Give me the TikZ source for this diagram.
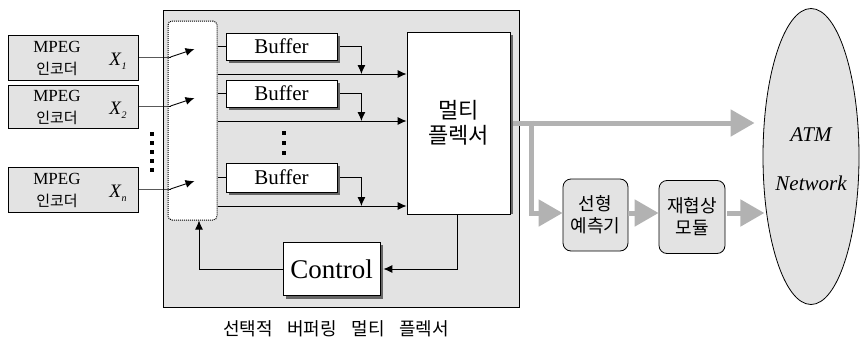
\documentclass[tikz,border=0pt]{standalone}
\usepackage{fontspec}
\setmainfont{Liberation Serif}
\newfontfamily\kr{Noto Sans CJK KR}
\usetikzlibrary{arrows.meta,shapes.geometric,calc}
\newcommand{\fsz}[1]{\fontsize{#1}{#1}\selectfont}
\begin{document}
\begin{tikzpicture}[x=1pt,y=-1pt,
  graybox/.style={draw, line width=0.8pt, fill=gray!22, inner sep=0pt},
  whitebox/.style={draw, line width=0.8pt, fill=white, inner sep=0pt},
  shadowfill/.style={fill=black!60},
  conn/.style={line width=0.9pt, -{Latex[length=9pt,width=8pt]}},
  plain/.style={line width=0.9pt},
  fatline/.style={line width=5pt, draw=gray!60},
  fat/.style={line width=5pt, draw=gray!60, -{Triangle[length=24pt,width=26pt]}},
  dotsq/.style={fill=black, minimum size=3.5pt, inner sep=0pt},
  txt/.style={inner sep=0pt}
]
\useasboundingbox (0,0) rectangle (862,340);

% ATM network
\node[ellipse, draw, line width=0.8pt, fill=gray!22, minimum width=96pt, minimum height=296pt, inner sep=0pt] (atm) at (811,156.5) {};
\node[txt, font=\fsz{21}\itshape] (atmt) at (811,135) {ATM};
\node[txt, font=\fsz{21}\itshape] (nett) at (811,183) {Network};

% outer box
\node[graybox, minimum width=356pt, minimum height=297pt] (outer) at (341,158.5) {};
\node[txt, font=\kr\fsz{18}] (cap) at (336,329) {선택적\hspace{0.8em}버퍼링\hspace{0.8em}멀티\hspace{0.8em}플렉서};

% encoders
\node[graybox, minimum width=130pt, minimum height=45pt] (e1) at (73,58) {};
\node[graybox, minimum width=130pt, minimum height=43pt] (e2) at (73,107) {};
\node[graybox, minimum width=130pt, minimum height=45pt] (e3) at (73,190) {};
\foreach \e/\s in {e1/1,e2/2,e3/n}{
  \node[txt, font=\fsz{17}] (\e m) at ($(\e.center)+(-16,-11)$) {MPEG};
  \node[txt, font=\kr\fsz{15}] (\e k) at ($(\e.center)+(-16,11)$) {인코더};
  \node[txt, font=\fsz{19}] (\e x) at ($(\e.center)+(45,3)$) {\textit{X}\raisebox{-4pt}{\fsz{10}\textit{\s}}};
}
% vertical dots between encoders
\foreach \i [count=\k] in {134,143,152,161,170}
  \node[dotsq] (ed\k) at (152,\i) {};

% switch
\node[draw, densely dotted, line width=1pt, rounded corners=4pt, fill=white, minimum width=49pt, minimum height=199pt] (sw) at (192.5,120.5) {};

% buffers
\node[whitebox, minimum width=111pt, minimum height=27pt, font=\fsz{21}] (b1) at (281.5,46.5) {Buffer};
\node[whitebox, minimum width=111pt, minimum height=27pt, font=\fsz{21}] (b2) at (281.5,93.5) {Buffer};
\node[whitebox, minimum width=111pt, minimum height=29pt, font=\fsz{21}] (b3) at (281.5,177.5) {Buffer};
\foreach \i [count=\k] in {133,143,153}
  \node[dotsq] (bd\k) at (284,\i) {};

% multiplexer
\node[whitebox, minimum width=103pt, minimum height=182pt, font=\kr\fsz{22}, align=center] (mux) at (458.5,123) {멀티\\[3pt]플렉서};

% control
\node[whitebox, minimum width=97pt, minimum height=53pt, font=\fsz{27}] (ctrl) at (331.5,269) {Control};

% shadows (right and bottom strips)
\foreach \n in {b1,b2,b3,ctrl}{
  \fill[shadowfill] ($(\n.north east)+(0.4,3)$) rectangle ($(\n.south east)+(3,3)$);
  \fill[shadowfill] ($(\n.south west)+(3,0.4)$) rectangle ($(\n.south east)+(3,3)$);
}
\fill[shadowfill] ($(mux.north east)+(0.4,3)$) rectangle ($(mux.south east)+(2.5,0)$);

% predictor and renegotiation
\node[graybox, rounded corners=8pt, minimum width=65pt, minimum height=72pt, font=\kr\fsz{18}, align=center] (pred) at (595.5,215) {선형\\[4pt]예측기};
\node[graybox, rounded corners=8pt, minimum width=66pt, minimum height=73pt, font=\kr\fsz{18}, align=center] (reneg) at (692,217) {재협상\\[4pt]모듈};

% encoder to switch
\foreach \e/\n in {e1/1,e2/2,e3/3}{
  \draw[plain] (\e.east |- \e x.east) ++(0,-4) coordinate (a\n) -- (a\n -| sw.west) -- ++(3,0) coordinate (s\n);
  \draw[conn] (s\n) -- ++(24,-8);
}

% switch to buffers
\foreach \b in {b1,b2,b3}
  \draw[plain] (\b.west -| sw.east) -- (\b.west);

% switch to multiplexer lines, buffer outputs
\foreach \b/\y in {b1/74,b2/121,b3/206}{
  \draw[conn] (sw.east |- 0,\y) -- (mux.west |- 0,\y);
  \path (\b.east) ++(24,0) coordinate (bo);
  \draw[conn] ($(\b.east)+(3,0)$) -| (bo |- 0,\y);
}

% mux to control, control to switch
\draw[conn] ($(mux.south)+(-1.5,0)$) |- ($(ctrl.east)+(3,0)$);
\draw[conn] (ctrl.west) -| ($(sw.south)+(6.5,0)$);

% fat output arrows
\draw[fatline] ($(mux.east)+(2.5,0)$) -- ++(19,0) coordinate (br);
\draw[fat] ($(mux.east)+(2.5,0)$) -- ($(atm.west |- mux.east)+(-8,0)$);
\draw[fatline] (br) ++(0,-2.5) -- ++(0,92.5) coordinate (brd);
\draw[fat] ($(brd)+(-2.5,0)$) -- (pred.west |- brd);
\draw[fat] (pred.east |- brd) -- (reneg.west |- brd);
\draw[fat] ($(reneg.east |- brd)+(2,0)$) -- ++(37,0);
\end{tikzpicture}
\end{document}
